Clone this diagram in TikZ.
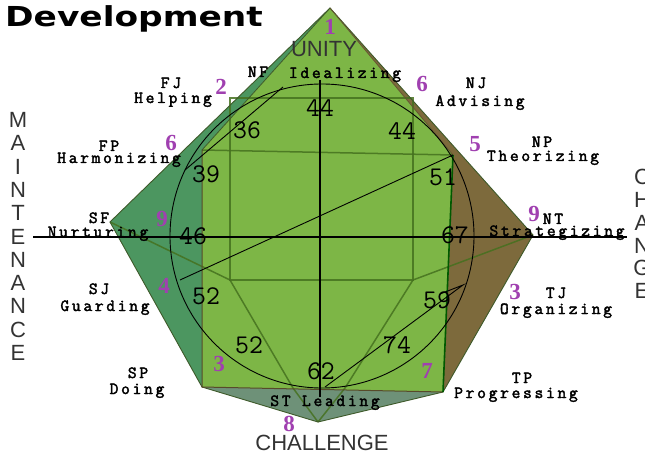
\documentclass[tikz,border=0pt]{standalone}
\usepackage{fontspec}
\usepackage{graphicx}
\setmainfont{Liberation Serif}
\newfontfamily\titlefont{DejaVu Sans}
\newfontfamily\sansf{Liberation Sans}
\newfontfamily\monof{Latin Modern Mono}[LetterSpace=16, FakeBold=2.4]
\newfontfamily\scoref{Latin Modern Mono}
\definecolor{frontc}{HTML}{7DB646}
\definecolor{leftc}{HTML}{4C9660}
\definecolor{brownc}{HTML}{7D6A3C}
\definecolor{greyc}{HTML}{6E9178}
\definecolor{edgec}{HTML}{3E5A2A}
\definecolor{innerc}{HTML}{45711F}
\definecolor{numpurple}{HTML}{A040B0}
\tikzset{
  lbl/.style={font=\monof\fontsize{17}{17}\selectfont, anchor=base, inner sep=0pt},
  num/.style={font=\bfseries\fontsize{23}{23}\selectfont, text=numpurple, inner sep=0pt},
  score/.style={font=\scoref\fontsize{27}{27}\selectfont, inner sep=0pt},
  big/.style={font=\sansf\fontsize{22}{22}\selectfont, inner sep=0pt, text=black!80},
  innerline/.style={draw=innerc, line width=1.5pt, opacity=0.85},
  chord/.style={draw=black, line width=0.9pt},
  axis/.style={draw=black, line width=1.1pt}
}
\begin{document}
\begin{tikzpicture}[x=1pt,y=-1pt]
\useasboundingbox (0,0) rectangle (645,457);
% vertices
\coordinate (A) at (330,8);
\coordinate (R) at (533,235);
\coordinate (BR) at (443,392);
\coordinate (B) at (318,422);
\coordinate (BL) at (202,387);
\coordinate (L) at (110,222);
\coordinate (FL) at (202,150);
\coordinate (FR) at (453,155);
\coordinate (K1) at (230,98);
\coordinate (K2) at (413,98);
\coordinate (K3) at (413,280);
\coordinate (K4) at (230,280);
\coordinate (G1) at (293,388);
\coordinate (G2) at (345,388);
\coordinate (C) at (322,236);
% faces
\fill[leftc] (A) -- (L) -- (BL) -- (FL) -- cycle;
\fill[brownc] (A) -- (R) -- (BR) -- (FR) -- cycle;
\fill[greyc] (BL) -- (B) -- (BR) -- cycle;
\fill[frontc] (A) -- (FR) -- (BR) -- (BL) -- (FL) -- cycle;
% inner (back) edges
\draw[innerline] (FL) -- (FR);
\draw[innerline] (K1) -- (K2) -- (K3) -- (K4) -- cycle;
\draw[innerline] (L) -- (K4) -- (G1) -- (B);
\draw[innerline] (R) -- (K3) -- (G2) -- (B);
% edges
\draw[edgec, line width=0.9pt] (A) -- (R) -- (BR) -- (B) -- (BL) -- (L) -- cycle;
\draw[brownc!70!black, line width=1pt] (FL) -- (BL) -- (BR);
\draw[green!35!black, line width=1.6pt] (FR) -- (BR);
\draw[edgec, line width=0.8pt] (A) -- (FL);
\draw[brownc!80!black, line width=0.8pt] (A) -- (FR);
% circle and chords
\draw[black, line width=0.9pt] (C) circle[radius=152pt];
\coordinate (P4) at (180,280);
\coordinate (P5) at (453,155);
\coordinate (Q1) at (185,170);
\coordinate (Q2) at (283,87);
\coordinate (S1) at (325,387);
\coordinate (S2) at (463,285);
\coordinate (S3) at (440,294);
\draw[chord] (P4) -- (P5);
\draw[chord] (Q1) -- (Q2);
\draw[chord] (S1) -- (S2) -- (S3);
% axes
\coordinate (HX1) at (33,237);
\coordinate (HX2) at (627,237);
\coordinate (VX1) at (320,80);
\coordinate (VX2) at (320,397);
\draw[axis] (HX1) -- (HX2);
\draw[axis] (VX1) -- (VX2);
% title
\node[anchor=base west, inner sep=0pt, font=\titlefont\bfseries\fontsize{27.5}{27.5}\selectfont] (title) at (5,27) {\scalebox{1.25}[1]{Development}};
% big axis words
\node[big] (unity) at (324,49) {UNITY};
\node[big] (chal) at (322,443) {CHALLENGE};
\foreach \ch/\yy [count=\i] in {M/120,A/143,I/167,N/190,T/213,E/237,N/260,A/283,N/306,C/330,E/353}
  \node[big] (m\i) at (18,\yy) {\ch};
\foreach \ch/\yy [count=\i] in {C/177,H/200,A/223,N/246,G/268,E/291}
  \node[big] (c\i) at (642,\yy) {\ch};
% type labels
\node[lbl] (fj) at (171,88) {FJ};
\node[lbl] (helping) at (173,103) {Helping};
\node[lbl] (nf) at (258,77) {NF};
\node[lbl] (ideal) at (345,78) {Idealizing};
\node[lbl] (nj) at (476,88) {NJ};
\node[lbl] (advising) at (480,106) {Advising};
\node[lbl] (np) at (542,147) {NP};
\node[lbl] (theor) at (543,161) {Theorizing};
\node[lbl] (fp) at (109,151) {FP};
\node[lbl] (harm) at (119,163) {Harmonizing};
\node[lbl] (sf) at (99,223) {SF};
\node[lbl] (nurt) at (98,237) {Nurturing};
\node[lbl] (nt) at (553,224) {NT};
\node[lbl] (strat) at (557,236) {Strategizing};
\node[lbl] (sj) at (99,294) {SJ};
\node[lbl] (guard) at (105,311) {Guarding};
\node[lbl] (tj) at (556,298) {TJ};
\node[lbl] (organ) at (556,314) {Organizing};
\node[lbl] (sp) at (138,378) {SP};
\node[lbl] (doing) at (137,394) {Doing};
\node[lbl] (tp) at (522,383) {TP};
\node[lbl] (progr) at (516,398) {Progressing};
\node[lbl] (stlead) at (325,406) {ST Leading};
% purple numbers
\node[num] (d1) at (330,27) {1};
\node[num] (d2) at (221,87) {2};
\node[num] (d6a) at (171,143) {6};
\node[num] (d6b) at (422,84) {6};
\node[num] (d5) at (475,144) {5};
\node[num] (d9a) at (162,219) {9};
\node[num] (d9b) at (534,214) {9};
\node[num] (d4) at (164,286) {4};
\node[num] (d3a) at (219,364) {3};
\node[num] (d3b) at (515,292) {3};
\node[num] (d7) at (427,371) {7};
\node[num] (d8) at (289,424) {8};
% scores
\node[score] (s44a) at (320,108) {44};
\node[score] (s36) at (247,130) {36};
\node[score] (s44b) at (402,131) {44};
\node[score] (s39) at (206,174) {39};
\node[score] (s51) at (443,177) {51};
\node[score] (s46) at (193,236) {46};
\node[score] (s67) at (455,235) {67};
\node[score] (s52a) at (206,296) {52};
\node[score] (s52b) at (249,345) {52};
\node[score] (s62) at (321,371) {62};
\node[score] (s74) at (397,345) {74};
\node[score] (s59) at (437,300) {59};
\end{tikzpicture}
\end{document}
